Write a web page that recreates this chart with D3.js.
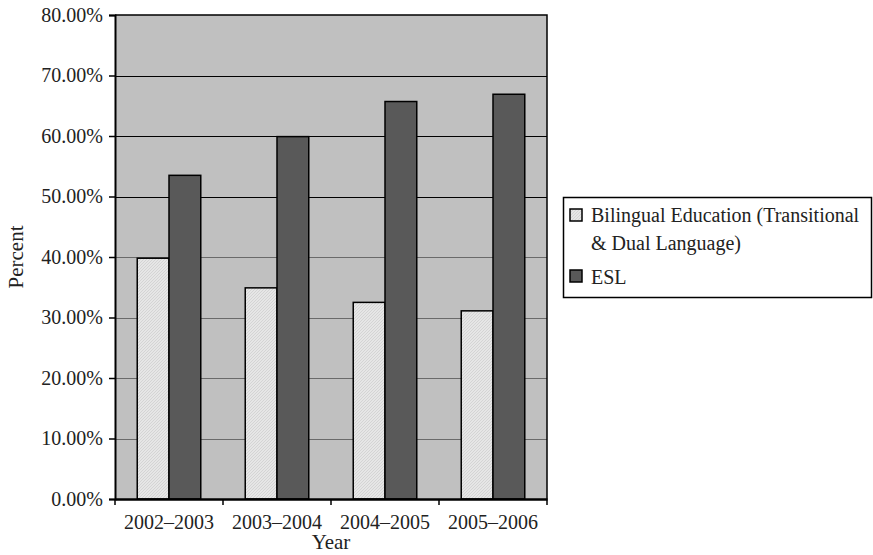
<!DOCTYPE html>
<html>
<head>
<meta charset="utf-8">
<script src="https://cdn.jsdelivr.net/npm/d3@7"></script>
<style>
  body { margin: 0; background: #fff; }
  svg { display: block; font-family: "Liberation Serif", "DejaVu Serif", serif; }
</style>
</head>
<body>
<svg id="chart" width="873" height="555"></svg>
<script>
// data
const years = ["2002\u20132003", "2003\u20132004", "2004\u20132005", "2005\u20132006"];
const bilingual = [39.8, 34.9, 32.5, 31.1];
const esl = [53.5, 59.9, 65.7, 66.9];
const yTicks = [0, 10, 20, 30, 40, 50, 60, 70, 80];
const seriesNames = ["Bilingual Education (Transitional & Dual Language)", "ESL"];

const svg = d3.select("#chart");
const margin = {left: 115, top: 15, right: 326, bottom: 56};
const W = 873, H = 555;
const serif = "Liberation Serif, serif";

const x = d3.scaleBand().domain(years).range([margin.left, W - margin.right]);
const y = d3.scaleLinear().domain([0, 80]).range([H - margin.bottom, margin.top]);
const inner = d3.scaleBand().domain([0, 1]).range([0, x.bandwidth()]).paddingInner(0).paddingOuter(0.7);

// hatch pattern for the light bars
const defs = svg.append("defs");
const pat = defs.append("pattern")
    .attr("id", "hatch")
    .attr("patternUnits", "userSpaceOnUse")
    .attr("width", 3).attr("height", 3);
pat.append("rect").attr("width", 3).attr("height", 3).attr("fill", "#e6e6e6");
pat.append("path").attr("d", "M0,3 L3,0").attr("stroke", "#cfcfcf").attr("stroke-width", 0.8);

// plot background
svg.append("rect")
    .attr("x", margin.left).attr("y", margin.top)
    .attr("width", W - margin.right - margin.left)
    .attr("height", H - margin.bottom - margin.top)
    .attr("fill", "#c0c0c0");

// gridlines
svg.append("g")
  .selectAll("line")
  .data(yTicks.filter(d => d > 0 && d < 80))
  .join("line")
    .attr("x1", margin.left).attr("x2", W - margin.right)
    .attr("y1", d => Math.round(y(d)) + 0.5).attr("y2", d => Math.round(y(d)) + 0.5)
    .attr("stroke", d => d >= 50 ? "#000" : "#6a6a6a")
    .attr("stroke-width", 1);

// bars
const groups = svg.append("g")
  .selectAll("g")
  .data(years)
  .join("g")
    .attr("transform", d => `translate(${x(d)},0)`);

groups.append("rect")
    .attr("x", inner(0))
    .attr("y", (d, i) => y(bilingual[i]))
    .attr("width", inner.bandwidth())
    .attr("height", (d, i) => y(0) - y(bilingual[i]))
    .attr("fill", "url(#hatch)")
    .attr("stroke", "#000").attr("stroke-width", 1.5);

groups.append("rect")
    .attr("x", inner(1))
    .attr("y", (d, i) => y(esl[i]))
    .attr("width", inner.bandwidth())
    .attr("height", (d, i) => y(0) - y(esl[i]))
    .attr("fill", "#595959")
    .attr("stroke", "#000").attr("stroke-width", 1.5);

// frame: top and right
svg.append("path")
    .attr("d", `M${margin.left},${margin.top}H${W - margin.right}V${H - margin.bottom}`)
    .attr("fill", "none").attr("stroke", "#000").attr("stroke-width", 1.5);

// y axis
const yAxis = svg.append("g")
    .attr("transform", `translate(${margin.left},0)`)
    .call(d3.axisLeft(y).tickValues(yTicks).tickFormat(d => d3.format(".2f")(d) + "%").tickSize(6).tickPadding(6));
yAxis.attr("font-family", serif);
yAxis.select(".domain").attr("stroke-width", 2);
yAxis.selectAll(".tick line").attr("stroke-width", 1.5);
yAxis.selectAll("text").attr("font-size", 20).attr("fill", "#222");

// x axis
const xAxis = svg.append("g")
    .attr("transform", `translate(0,${H - margin.bottom})`)
    .call(d3.axisBottom(x).tickSize(0).tickPadding(16));
xAxis.attr("font-family", serif);
xAxis.select(".domain").attr("stroke-width", 2.5);
xAxis.selectAll("text").attr("font-size", 20).attr("fill", "#222");
// boundary ticks between categories
svg.append("g")
  .selectAll("line")
  .data(d3.range(years.length + 1))
  .join("line")
    .attr("x1", i => i < years.length ? x(years[i]) : x(years[years.length - 1]) + x.bandwidth())
    .attr("x2", i => i < years.length ? x(years[i]) : x(years[years.length - 1]) + x.bandwidth())
    .attr("y1", H - margin.bottom).attr("y2", H - margin.bottom + 6)
    .attr("stroke", "#000").attr("stroke-width", 1.5);

// axis titles
svg.append("text")
    .attr("x", (margin.left + W - margin.right) / 2).attr("y", 549)
    .attr("text-anchor", "middle").attr("font-size", 21).attr("fill", "#222")
    .text("Year");
svg.append("text")
    .attr("transform", `translate(23,${(margin.top + H - margin.bottom) / 2}) rotate(-90)`)
    .attr("text-anchor", "middle").attr("font-size", 21).attr("fill", "#222")
    .text("Percent");

// legend
const lg = svg.append("g");
lg.append("rect")
    .attr("x", 563.5).attr("y", 197.5).attr("width", 308).attr("height", 100)
    .attr("fill", "#fff").attr("stroke", "#000").attr("stroke-width", 1.5);
lg.append("rect").attr("x", 570).attr("y", 209).attr("width", 12).attr("height", 12)
    .attr("fill", "url(#hatch)").attr("stroke", "#000").attr("stroke-width", 1.5);
lg.append("rect").attr("x", 570).attr("y", 270).attr("width", 12).attr("height", 12)
    .attr("fill", "#595959").attr("stroke", "#000").attr("stroke-width", 1.5);
const lt = lg.append("text").attr("font-size", 20).attr("fill", "#222");
lt.append("tspan").attr("x", 591).attr("y", 222).text("Bilingual Education (Transitional");
lt.append("tspan").attr("x", 591).attr("y", 250).text("& Dual Language)");
lg.append("text").attr("x", 591).attr("y", 284).attr("font-size", 20).attr("fill", "#222")
    .text(seriesNames[1]);
</script>
</body>
</html>
